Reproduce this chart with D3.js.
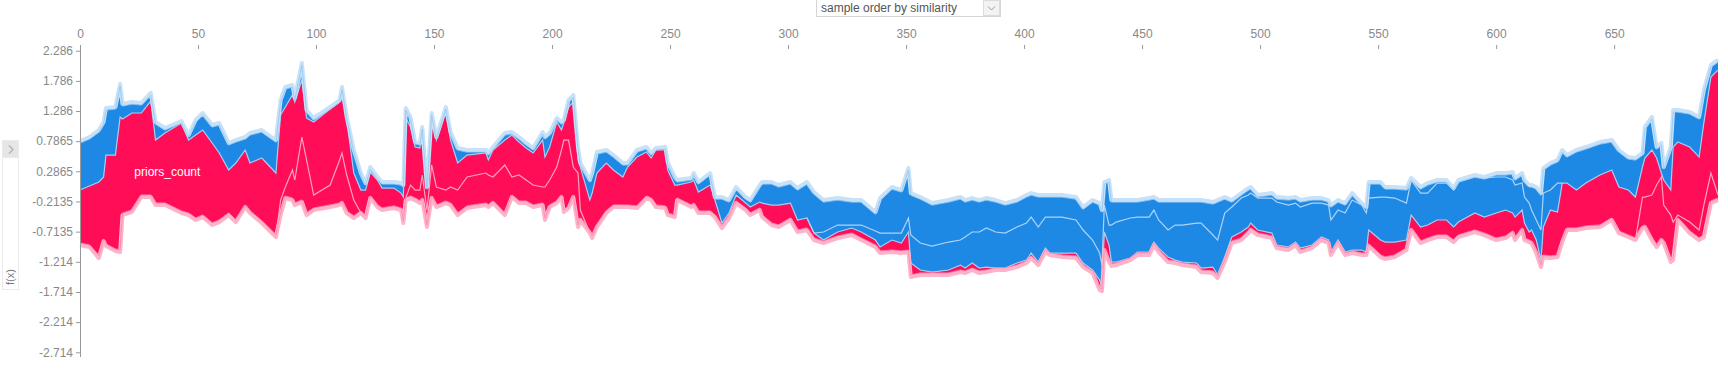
<!DOCTYPE html>
<html>
<head>
<meta charset="utf-8">
<script src="https://cdn.jsdelivr.net/npm/d3@7"></script>
<style>
body { margin: 0; background: #fff; }
svg { display: block; font-family: "Liberation Sans", Arial, sans-serif; }
</style>
</head>
<body>
<div id="chart"></div>
<script>
// sample positions (sample order by similarity)
var sampleIdx = [
  0,4,8,10,11,15,17,18,22,26,30,32,36,43,46,49,52,56,59,63,66,70,72,77,83,85,87,90,91,94,96,99,106,110,111,113,116,119,
  121,123,126,128,133,136,137,138,140,142,144,145,147,149,151,155,157,160,164,172,173,175,180,183,186,189,192,196,197,199,202,204,205,207,209,211,212,216,217,219,223,226,230,232,236,240,
  242,244,248,249,252,253,259,260,262,267,269,272,275,278,282,284,288,289,293,296,301,304,308,311,315,321,327,331,337,339,344,348,351,352,356,361,
  368,373,375,378,381,384,388,392,397,401,403,406,409,411,416,422,425,429,432,433,434,436,437,439,445,448,453,455,457,461,464,467,473,475,480,482,
  485,488,492,495,496,499,505,507,512,515,517,522,526,529,530,533,536,539,543,545,546,551,553,557,562,564,568,571,575,579,582,584,591,595,
  600,604,607,608,611,612,614,615,617,619,620,623,626,628,630,634,638,644,649,652,656,659,662,663,666,668,670,671,674,675,677,682,686,688,691,694
];

// top of the blue (negative) stack
var topVals = [
  0.789,0.855,0.971,1.104,1.336,1.352,1.734,1.402,1.435,1.419,1.585,1.104,1.004,1.120,0.888,1.137,1.253,1.054,1.087,0.756,
  0.805,0.855,0.921,0.971,0.805,1.468,1.684,1.717,1.502,2.082,1.303,1.170,1.352,1.468,1.684,1.187,0.640,0.258,
  0.092,0.357,0.192,0.109,0.109,0.092,0.059,1.336,1.187,0.772,0.756,1.021,0.026,1.253,0.855,1.352,0.938,0.673,0.640,0.640,
  0.590,0.689,0.921,0.938,0.855,0.756,0.673,0.938,0.855,0.921,1.170,1.104,1.137,1.468,1.551,0.689,0.424,0.142,0.258,0.606,
  0.640,0.556,0.424,0.424,0.640,0.689,
  0.590,0.673,0.689,0.440,0.192,0.142,0.175,0.258,0.109,0.258,-0.140,-0.140,-0.190,0.026,-0.140,-0.190,0.059,0.109,0.109,0.059,
  0.109,0.009,0.109,-0.057,-0.190,-0.157,-0.190,-0.190,-0.389,-0.157,0.026,-0.024,0.341,-0.074,-0.140,-0.240,
  -0.190,-0.140,-0.190,-0.157,-0.190,-0.157,-0.190,-0.240,-0.190,-0.107,-0.074,-0.107,-0.107,-0.107,-0.107,-0.140,-0.306,-0.190,-0.240,-0.356,
  0.109,0.142,-0.190,-0.190,-0.190,-0.190,-0.157,-0.140,-0.190,-0.190,-0.190,-0.190,-0.190,-0.190,-0.223,-0.190,
  -0.140,-0.190,-0.074,0.009,0.026,-0.107,-0.074,-0.140,-0.157,-0.140,-0.190,-0.157,-0.157,-0.190,-0.273,-0.190,-0.240,-0.074,-0.240,-0.306,
  0.109,0.109,0.026,0.026,0.009,0.175,0.026,0.092,0.142,0.142,0.009,0.142,0.225,0.192,
  0.258,0.258,0.275,0.175,0.258,0.142,0.059,0.059,0.026,-0.074,0.341,0.424,0.474,0.640,0.556,0.640,0.689,0.772,0.805,0.640,
  0.523,0.507,0.590,1.021,1.187,0.689,0.756,0.357,0.689,1.303,1.303,1.270,1.187,1.634,2.049,2.132
];

// f(x): border between red and blue
var fxVals = [
  -0.024,0.042,0.109,0.192,0.556,0.556,1.187,1.153,1.253,1.253,1.452,0.805,0.921,1.087,0.805,0.888,0.971,0.756,0.590,0.308,
  0.424,0.640,0.424,0.507,0.258,1.220,1.352,1.551,1.435,1.800,1.170,1.104,1.319,1.435,1.634,1.137,0.258,-0.024,
  -0.024,0.275,0.142,0.009,0.009,-0.074,-0.140,1.170,1.021,0.689,0.673,0.971,0.009,1.187,0.805,1.270,0.805,0.424,0.556,0.590,
  0.474,0.640,0.805,0.888,0.772,0.673,0.590,0.805,0.523,0.689,1.104,0.971,1.087,1.352,1.435,0.474,0.357,-0.190,-0.074,0.258,
  0.424,0.308,0.192,0.357,0.523,0.606,
  0.507,0.640,0.640,0.308,0.059,0.059,0.109,0.142,-0.057,0.059,-0.190,-0.571,-0.405,-0.107,-0.240,-0.306,-0.223,-0.240,-0.273,-0.273,
  -0.240,-0.521,-0.488,-0.737,-0.853,-0.720,-0.654,-0.720,-0.853,-0.969,-0.853,-0.903,-0.720,-1.234,-1.350,-1.384,
  -1.350,-1.268,-1.317,-1.234,-1.317,-1.301,-1.317,-1.317,-1.234,-1.185,-1.069,-1.218,-0.986,-1.069,-1.069,-1.069,-1.234,-1.350,-1.516,-1.632,
  -0.720,-0.936,-1.218,-1.218,-1.152,-1.052,-1.052,-0.886,-0.986,-1.135,-1.185,-1.218,-1.234,-1.317,-1.301,-1.433,
  -1.135,-0.803,-0.720,-0.637,-0.571,-0.687,-0.737,-0.936,-0.969,-0.886,-0.986,-0.936,-0.803,-0.853,-1.069,-0.853,-1.052,-1.019,-1.019,-1.052,
  -0.687,-0.853,-0.886,-0.886,-0.853,-0.439,-0.637,-0.604,-0.521,-0.521,-0.637,-0.555,-0.405,-0.472,
  -0.405,-0.356,-0.405,-0.472,-0.356,-0.571,-0.720,-0.687,-0.853,-1.185,-0.637,-0.356,-0.389,0.092,0.092,-0.024,0.092,0.225,0.308,0.026,
  -0.024,-0.140,0.357,0.507,0.640,0.507,0.258,0.142,-0.024,0.689,0.772,0.689,0.523,1.087,1.850,1.966
];

// bottom of the red (positive) stack
var botVals = [
  -0.936,-0.969,-1.152,-0.870,-0.953,-1.036,-1.052,-0.439,-0.389,-0.140,-0.140,-0.273,-0.273,-0.405,-0.439,-0.521,-0.472,-0.604,-0.555,-0.439,
  -0.555,-0.306,-0.405,-0.571,-0.803,-0.439,-0.157,-0.190,-0.273,-0.223,-0.439,-0.356,-0.306,-0.273,-0.240,-0.405,-0.488,-0.405,
  -0.488,-0.157,-0.306,-0.356,-0.322,-0.356,-0.571,-0.190,-0.157,-0.190,-0.240,-0.190,-0.637,-0.157,-0.306,-0.240,-0.273,-0.439,-0.322,-0.273,
  -0.306,-0.240,-0.439,-0.140,-0.240,-0.240,-0.306,-0.273,-0.521,-0.306,-0.240,-0.140,-0.389,-0.322,-0.140,-0.637,-0.521,-0.737,-0.820,-0.637,
  -0.405,-0.306,-0.306,-0.306,-0.322,-0.157,
  -0.190,-0.306,-0.322,-0.439,-0.472,-0.190,-0.306,-0.273,-0.405,-0.405,-0.472,-0.654,-0.488,-0.240,-0.356,-0.439,-0.356,-0.472,-0.604,-0.637,
  -0.521,-0.720,-0.687,-0.853,-0.903,-0.820,-0.770,-0.853,-0.969,-1.069,-1.052,-1.069,-1.052,-1.466,-1.433,-1.433,
  -1.433,-1.384,-1.400,-1.350,-1.400,-1.384,-1.350,-1.350,-1.301,-1.234,-1.152,-1.268,-1.052,-1.102,-1.135,-1.152,-1.301,-1.400,-1.682,-1.699,
  -1.019,-1.218,-1.284,-1.268,-1.185,-1.102,-1.102,-0.936,-1.052,-1.218,-1.234,-1.268,-1.301,-1.384,-1.400,-1.483,
  -1.218,-0.903,-0.853,-0.737,-0.687,-0.770,-0.820,-0.986,-1.019,-0.936,-1.052,-0.986,-0.853,-0.903,-1.102,-0.903,-1.102,-1.069,-1.102,-1.102,
  -0.950,-1.135,-1.168,-1.135,-1.019,-0.687,-0.903,-0.853,-0.803,-0.803,-0.886,-0.803,-0.720,-0.770,
  -0.853,-0.820,-0.737,-0.853,-0.687,-0.853,-0.886,-0.903,-1.069,-1.301,-1.135,-1.152,-1.135,-0.886,-0.687,-0.687,-0.654,-0.637,-0.521,-0.737,
  -0.803,-0.853,-0.654,-0.637,-0.853,-0.969,-0.853,-0.903,-1.218,-1.185,-0.521,-0.737,-0.853,-0.803,-0.240,-0.190
];

// feature borders inside the red stack
var redLine1Idx = [83,85,87,90,91,94,96,99,106,110,111,113,116,119];
var redLine1 = [-0.803,-0.190,0.026,0.308,0.142,0.855,0.474,-0.107,0.059,0.474,0.590,0.225,-0.190,-0.405];
var redLine2Idx = [138,140,142,144,145,147,149,151,155,157,160,164,172,173,175,180,183,186,189,192,196,197,199,202,204,205,207,209,211,212,216];
var redLine2 = [-0.157,0.059,-0.024,-0.024,0.225,-0.356,0.391,0.026,-0.024,0.026,-0.024,0.192,0.258,0.225,0.192,0.391,0.192,0.225,0.142,0.059,0.026,0.026,0.142,0.357,0.640,0.805,0.805,0.357,0.258,-0.356,-0.737];
var redLine3Idx = [659,662,663,666,668,670,671,674,675,677,682,686,688,691,694];
var redLine3 = [-0.853,-0.140,-0.140,-0.107,0.059,0.192,-0.273,-0.439,-0.555,-0.439,-0.555,-0.687,-0.273,0.258,-0.107];

// feature border inside the blue stack
var blueLineIdx = [
  308,311,315,321,327,331,337,339,344,348,351,352,356,361,
  368,373,375,378,381,384,388,392,397,401,403,406,409,411,416,422,425,429,432,433,434,436,437,439,445,448,453,455,457,461,464,467,473,475,480,482,
  485,488,492,495,496,499,505,507,512,515,517,522,526,529,530,533,536,539,543,545,546,551,553,557,562,564,568,571,575,579,582,584,591,595,
  600,604,607,608,611,612,614,615,617,619,620,623,626,628
];
var blueLine = [
  -0.488,-0.737,-0.720,-0.604,-0.604,-0.604,-0.704,-0.737,-0.737,-0.737,-0.488,-0.770,-0.903,-0.953,
  -0.886,-0.853,-0.803,-0.720,-0.720,-0.654,-0.720,-0.737,-0.637,-0.571,-0.472,-0.637,-0.472,-0.472,-0.472,-0.521,-0.687,-0.853,-1.069,-1.268,
  -0.273,-0.604,-0.604,-0.555,-0.488,-0.472,-0.472,-0.356,-0.521,-0.687,-0.604,-0.604,-0.571,-0.571,-0.770,-0.853,
  -0.405,-0.306,-0.157,-0.107,-0.074,-0.157,-0.157,-0.223,-0.273,-0.240,-0.306,-0.240,-0.240,-0.273,-0.521,-0.356,-0.405,-0.190,-0.273,-0.405,
  -0.157,-0.140,-0.140,-0.157,-0.240,0.142,-0.074,-0.074,0.092,0.092,-0.024,0.109,0.192,0.175,
  0.192,0.192,0.142,0.059,0.092,-0.140,-0.240,-0.356,-0.521,-0.687,-0.074,-0.024,0.092,0.092
];

// axis ticks
var xTickVals = [0,50,100,150,200,250,300,350,400,450,500,550,600,650];
var yTickLabels = ["2.286","1.786","1.286","0.7865","0.2865","-0.2135","-0.7135","-1.214","-1.714","-2.214","-2.714"];
var yTickVals = yTickLabels.map(Number);

var width = 1728, height = 369;
var red = "#ff0d57", blue = "#1e88e5";

var svg = d3.select("#chart")
  .append("svg")
    .attr("width", width)
    .attr("height", height);

var x = d3.scaleLinear().domain([0, 694]).range([80, 1718]);
var y = d3.scaleLinear().domain([-2.714, 2.286]).range([352.3, 50.7]);

var pts = sampleIdx.map(function(d, i) {
  return {i: d, top: topVals[i], fx: fxVals[i], bot: botVals[i]};
});
function pairs(idx, vals) {
  return idx.map(function(d, i) { return {i: d, v: vals[i]}; });
}

// areas
svg.append("path")
  .datum(pts)
  .attr("fill", red)
  .attr("d", d3.area().x(function(d) { return x(d.i); })
    .y0(function(d) { return y(d.bot); })
    .y1(function(d) { return y(d.fx); }));

svg.append("path")
  .datum(pts)
  .attr("fill", blue)
  .attr("d", d3.area().x(function(d) { return x(d.i); })
    .y0(function(d) { return y(d.fx); })
    .y1(function(d) { return y(d.top); }));

var line = d3.line().x(function(d) { return x(d.i); }).y(function(d) { return y(d.v); });

// inner feature borders
[[redLine1Idx, redLine1], [redLine2Idx, redLine2], [redLine3Idx, redLine3]].forEach(function(s) {
  svg.append("path")
    .datum(pairs(s[0], s[1]))
    .attr("fill", "none")
    .attr("stroke", "#ffa3bf")
    .attr("stroke-width", 1.2)
    .attr("d", line);
});
svg.append("path")
  .datum(pairs(blueLineIdx, blueLine))
  .attr("fill", "none")
  .attr("stroke", "#acd4f6")
  .attr("stroke-width", 1.2)
  .attr("d", line);

// f(x) border
svg.append("path")
  .datum(pairs(sampleIdx, fxVals))
  .attr("fill", "none")
  .attr("stroke", "#a3cdf3")
  .attr("stroke-width", 1.2)
  .attr("d", line);

// light bands of the small features at both edges
svg.append("path")
  .datum(pairs(sampleIdx, topVals))
  .attr("fill", "none")
  .attr("stroke", "#c6e1f8")
  .attr("stroke-width", 4)
  .attr("stroke-linejoin", "round")
  .attr("d", line);
svg.append("path")
  .datum(pairs(sampleIdx, topVals))
  .attr("fill", "none")
  .attr("stroke", "#93c6f1")
  .attr("stroke-width", 0.8)
  .attr("transform", "translate(0,2.2)")
  .attr("d", line);

svg.append("path")
  .datum(pairs(sampleIdx, botVals))
  .attr("fill", "none")
  .attr("stroke", "#ffb3ca")
  .attr("stroke-width", 4)
  .attr("stroke-linejoin", "round")
  .attr("d", line);
svg.append("path")
  .datum(pairs(sampleIdx, botVals))
  .attr("fill", "none")
  .attr("stroke", "#ff86ab")
  .attr("stroke-width", 0.8)
  .attr("transform", "translate(0,-2.2)")
  .attr("d", line);

// feature label
svg.append("text")
  .attr("x", x(37))
  .attr("y", y(0.26))
  .attr("text-anchor", "middle")
  .attr("dominant-baseline", "middle")
  .style("font-size", "12px")
  .style("fill", "#fff")
  .text("priors_count");

// x axis (top)
var gx = svg.append("g")
  .attr("transform", "translate(0,49)")
  .call(d3.axisTop(x).tickValues(xTickVals).tickSize(4).tickPadding(7));
gx.select(".domain").remove();

// y axis
var gy = svg.append("g")
  .attr("transform", "translate(80,0)")
  .call(d3.axisLeft(y).tickValues(yTickVals)
    .tickFormat(function(d, i) { return yTickLabels[i]; })
    .tickSize(4).tickPadding(3));
gy.select(".domain").remove();
svg.append("line")
  .attr("x1", 80.5).attr("x2", 80.5)
  .attr("y1", 45).attr("y2", 357)
  .attr("stroke", "#999");

svg.selectAll(".tick line").attr("stroke", "#999");
svg.selectAll(".tick text")
  .style("font-family", "'Liberation Sans', Arial, sans-serif")
  .style("font-size", "12px")
  .style("fill", "#888");

// sort dropdown
var dd = svg.append("g");
dd.append("rect")
  .attr("x", 816.5).attr("y", -0.5).attr("width", 184).attr("height", 17)
  .attr("fill", "#fff").attr("stroke", "#d6d6d6");
dd.append("rect")
  .attr("x", 983.5).attr("y", 0.5).attr("width", 16).attr("height", 15)
  .attr("fill", "#f3f3f3").attr("stroke", "#dcdcdc");
dd.append("path")
  .attr("d", "M988,6.5 L991.5,10 L995,6.5")
  .attr("fill", "none").attr("stroke", "#999").attr("stroke-width", 1);
dd.append("text")
  .attr("x", 821).attr("y", 12)
  .style("font-size", "12px")
  .style("fill", "#555")
  .text("sample order by similarity");

// f(x) side panel
var side = svg.append("g");
side.append("rect")
  .attr("x", 2.5).attr("y", 140.5).attr("width", 16).attr("height", 149)
  .attr("fill", "#fff").attr("stroke", "#ebebeb");
side.append("rect")
  .attr("x", 2.5).attr("y", 140.5).attr("width", 16).attr("height", 17)
  .attr("fill", "#e6e6e6").attr("stroke", "#ebebeb");
side.append("path")
  .attr("d", "M9,145.5 L13,149.5 L9,153.5")
  .attr("fill", "none").attr("stroke", "#b5b5b5").attr("stroke-width", 1.5);
side.append("text")
  .attr("transform", "translate(14,277)rotate(-90)")
  .attr("text-anchor", "middle")
  .style("font-size", "11px")
  .style("fill", "#777")
  .text("f(x)");
</script>
</body>
</html>
